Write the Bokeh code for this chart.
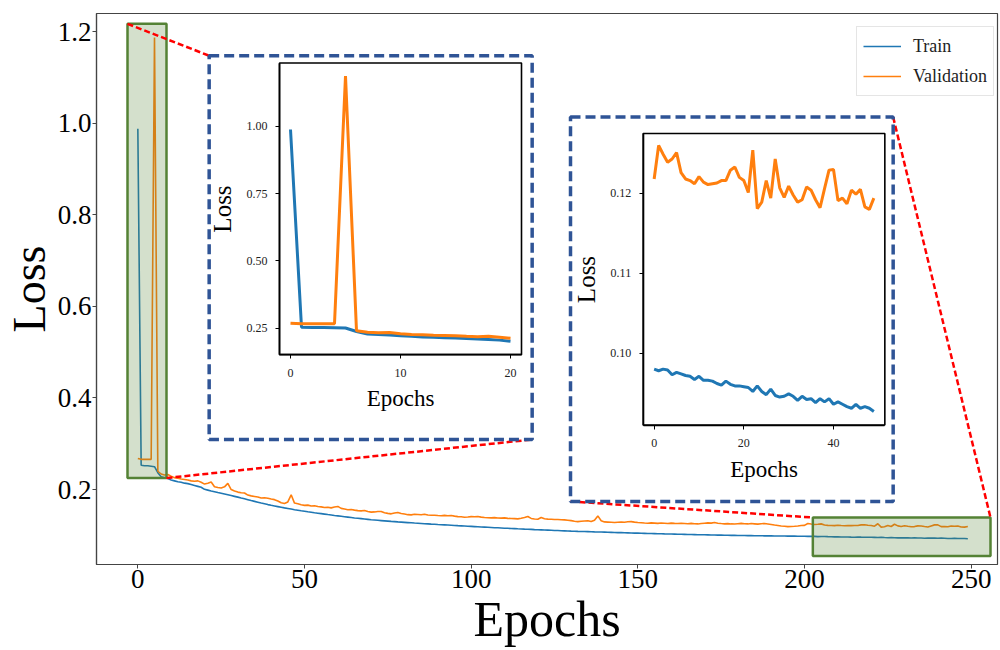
from bokeh.plotting import figure
from bokeh.models import Range1d, LinearAxis, FixedTicker, NumeralTickFormatter, Legend, LegendItem
from bokeh.embed import file_html
from bokeh.resources import INLINE

# ---------------- data ----------------
train_loss = [
    0.988, 0.253, 0.252, 0.252, 0.251, 0.250, 0.237, 0.228, 0.226, 0.224,
    0.221, 0.219, 0.217, 0.216, 0.214, 0.213, 0.211, 0.209, 0.207, 0.205,
    0.2005,
    0.1988, 0.1970, 0.1953, 0.1936, 0.1920, 0.1903, 0.1886, 0.1869, 0.1852, 0.1835,
    0.1816, 0.1798, 0.1779, 0.1760, 0.1742, 0.1724, 0.1706, 0.1689, 0.1672, 0.1656,
    0.1642, 0.1628, 0.1614, 0.1600, 0.1587, 0.1574, 0.1561, 0.1549, 0.1537, 0.1526,
    0.1515, 0.1505, 0.1494, 0.1484, 0.1474, 0.1464, 0.1454, 0.1445, 0.1435, 0.1426,
    0.1417, 0.1408, 0.1399, 0.1390, 0.1381, 0.1373, 0.1365, 0.1357, 0.1349, 0.1341,
    0.1335, 0.1329, 0.1323, 0.1317, 0.1311, 0.1305, 0.1300, 0.1294, 0.1289, 0.1284,
    0.1279, 0.1274, 0.1269, 0.1265, 0.1260, 0.1255, 0.1251, 0.1246, 0.1242, 0.1237,
    0.1233, 0.1229, 0.1225, 0.1221, 0.1217, 0.1212, 0.1208, 0.1204, 0.1200, 0.1196,
    0.1192, 0.1188, 0.1184, 0.1180, 0.1176, 0.1172, 0.1168, 0.1165, 0.1161, 0.1157,
    0.1154, 0.1150, 0.1147, 0.1143, 0.1140, 0.1136, 0.1133, 0.1130, 0.1126, 0.1123,
    0.1120, 0.1117, 0.1114, 0.1111, 0.1108, 0.1105, 0.1102, 0.1099, 0.1096, 0.1093,
    0.1091, 0.1088, 0.1086, 0.1083, 0.1081, 0.1079, 0.1076, 0.1074, 0.1072, 0.1070,
    0.1067, 0.1065, 0.1063, 0.1061, 0.1059, 0.1056, 0.1054, 0.1052, 0.1050, 0.1048,
    0.1046, 0.1044, 0.1042, 0.1040, 0.1038, 0.1036, 0.1034, 0.1032, 0.1031, 0.1029,
    0.1027, 0.1025, 0.1023, 0.1022, 0.1020, 0.1018, 0.1017, 0.1015, 0.1014, 0.1012,
    0.1011, 0.1009, 0.1008, 0.1006, 0.1005, 0.1004, 0.1002, 0.1001, 0.1000, 0.0998,
    0.0997, 0.0996, 0.0995, 0.0994, 0.0993, 0.0992, 0.0991, 0.0990, 0.0989, 0.0988,
    0.0987, 0.0987, 0.0986, 0.0985, 0.0984, 0.0984, 0.0983, 0.0982, 0.0981,
    0.0980, 0.0978, 0.0980, 0.0979, 0.0973, 0.0976, 0.0974, 0.0972, 0.0971, 0.0967,
    0.0971, 0.0966, 0.0966, 0.0965, 0.0962, 0.0960, 0.0965, 0.0961, 0.0959, 0.0959,
    0.0958, 0.0957, 0.0952, 0.0959, 0.0952, 0.0948, 0.0955, 0.0947, 0.0945, 0.0946,
    0.0949, 0.0946, 0.0941, 0.0946, 0.0942, 0.0943, 0.0938, 0.0943, 0.0939, 0.0943,
    0.0936, 0.0939, 0.0936, 0.0933, 0.0931, 0.0936, 0.0931, 0.0933, 0.0931, 0.0927,
]

val_loss = [
    0.268, 0.266, 0.266, 0.266, 0.266, 1.187, 0.240, 0.234, 0.232, 0.233,
    0.229, 0.226, 0.225, 0.223, 0.222, 0.221, 0.219, 0.218, 0.219, 0.216,
    0.212,
    0.2140, 0.2164, 0.2062, 0.2045, 0.2035, 0.2060, 0.2135, 0.2000, 0.1968, 0.1945,
    0.1930, 0.1925, 0.1880, 0.1862, 0.1850, 0.1838, 0.1815, 0.1820, 0.1812, 0.1795,
    0.1780, 0.1750, 0.1712, 0.1695, 0.1730, 0.1886, 0.1705, 0.1690, 0.1668, 0.1655,
    0.1660, 0.1642, 0.1648, 0.1630, 0.1622, 0.1610, 0.1615, 0.1600, 0.1618, 0.1632,
    0.1590, 0.1575, 0.1560, 0.1565, 0.1552, 0.1540, 0.1535, 0.1542, 0.1520, 0.1508,
    0.1512, 0.1520, 0.1522, 0.1495, 0.1480, 0.1470, 0.1488, 0.1500, 0.1478, 0.1465,
    0.1452, 0.1448, 0.1460, 0.1455, 0.1450, 0.1462, 0.1445, 0.1438, 0.1440, 0.1433,
    0.1428, 0.1436, 0.1430, 0.1433, 0.1420, 0.1410, 0.1405, 0.1396, 0.1402, 0.1410,
    0.1405, 0.1411, 0.1398, 0.1390, 0.1385, 0.1382, 0.1388, 0.1380, 0.1376, 0.1382,
    0.1372, 0.1368, 0.1365, 0.1360, 0.1372, 0.1390, 0.1411, 0.1370, 0.1358, 0.1353,
    0.1389, 0.1362, 0.1355, 0.1353, 0.1345, 0.1348, 0.1340, 0.1338, 0.1330, 0.1322,
    0.1310, 0.1301, 0.1308, 0.1315, 0.1320, 0.1302, 0.1330, 0.1425, 0.1320, 0.1294,
    0.1290, 0.1285, 0.1280, 0.1286, 0.1292, 0.1288, 0.1296, 0.1301, 0.1290, 0.1282,
    0.1276, 0.1270, 0.1265, 0.1272, 0.1268, 0.1262, 0.1270, 0.1265, 0.1260, 0.1268,
    0.1262, 0.1258, 0.1265, 0.1260, 0.1255, 0.1262, 0.1255, 0.1250, 0.1258, 0.1265,
    0.1272, 0.1268, 0.1280, 0.1266, 0.1258, 0.1252, 0.1256, 0.1250, 0.1248, 0.1255,
    0.1262, 0.1254, 0.1250, 0.1258, 0.1252, 0.1246, 0.1255, 0.1260, 0.1250, 0.1238,
    0.1225, 0.1215, 0.1205, 0.1198, 0.1191, 0.1195, 0.1200, 0.1206, 0.1215,
    0.1218, 0.1260, 0.1249, 0.1239, 0.1243, 0.1251, 0.1226, 0.1218, 0.1216, 0.1212,
    0.1221, 0.1214, 0.1211, 0.1212, 0.1213, 0.1216, 0.1216, 0.1229, 0.1233, 0.1220,
    0.1216, 0.1201, 0.1254, 0.1181, 0.1189, 0.1216, 0.1194, 0.1243, 0.1207, 0.1195,
    0.1209, 0.1198, 0.1189, 0.1192, 0.1208, 0.1204, 0.1192, 0.1182, 0.1206, 0.1229,
    0.1230, 0.1191, 0.1194, 0.1187, 0.1204, 0.1199, 0.1205, 0.1183, 0.1180, 0.1194,
]

train_epochs = list(range(len(train_loss)))
val_epochs = list(range(len(val_loss)))

x_ticks = [0, 50, 100, 150, 200, 250]
y_ticks = [0.2, 0.4, 0.6, 0.8, 1.0, 1.2]

zoom1_last_epoch = 20
zoom1_x_ticks = [0, 10, 20]
zoom1_y_ticks = [0.25, 0.50, 0.75, 1.00]

zoom2_first_epoch = 200
zoom2_x_ticks = [0, 20, 40]
zoom2_y_ticks = [0.10, 0.11, 0.12]

series_names = ["Train", "Validation"]

# ---------------- layout constants (main-data coordinates) ----------------
BLUE = "#1f77b4"
ORANGE = "#ff7f0e"
FONT = "Liberation Serif"

MAIN_X = (-12.4, 257.9)
MAIN_Y = (0.0364, 1.2395)

Z1_FRAME = (42.5, 115.1, 0.4946, 1.1313)      # left, right, bottom, top
Z1_RANGE_X = (-1.0, 21.0)
Z1_RANGE_Y = (0.151, 1.235)
Z1_BORDER = (21.4, 118.3, 0.3093, 1.1473)

Z2_FRAME = (151.6, 224.1, 0.3409, 0.9776)
Z2_RANGE_X = (-2.45, 51.45)
Z2_RANGE_Y = (0.0910, 0.1275)
Z2_BORDER = (129.8, 226.6, 0.1741, 1.0134)

GREEN1 = (-3.1, 8.6, 0.2252, 1.2169)
GREEN2 = (202.5, 255.8, 0.0547, 0.139)


def extra_range(f_lo, f_hi, m_lo, m_hi, d_lo, d_hi):
    k = (d_hi - d_lo) / (f_hi - f_lo)
    return Range1d(d_lo - (f_lo - m_lo) * k, d_hi + (m_hi - f_hi) * k)


p = figure(width=1000, height=650,
           x_range=Range1d(*MAIN_X), y_range=Range1d(*MAIN_Y),
           output_backend="svg", toolbar_location=None,
           min_border_left=96, min_border_right=3, min_border_top=13, min_border_bottom=86)
p.xgrid.visible = False
p.ygrid.visible = False
p.outline_line_color = "#444444"
p.outline_line_width = 1.2
p.background_fill_color = "white"
p.border_fill_color = "white"

mx = p.xaxis[0]
my = p.yaxis[0]
mx.ticker = FixedTicker(ticks=x_ticks)
my.ticker = FixedTicker(ticks=y_ticks)
my.formatter = NumeralTickFormatter(format="0.0")
mx.axis_label = "Epochs"
my.axis_label = "Loss"
for ax in (mx, my):
    ax.axis_line_color = "#444444"
    ax.axis_line_width = 1.2
    ax.major_tick_line_color = "#444444"
    ax.major_tick_out = 4
    ax.major_tick_in = 0
    ax.minor_tick_out = 0
    ax.minor_tick_in = 0
    ax.major_label_text_font = FONT
    ax.major_label_text_font_size = "27px"
    ax.major_label_text_color = "black"
    ax.major_label_standoff = 1
    ax.axis_label_text_font = FONT
    ax.axis_label_text_font_style = "normal"
    ax.axis_label_text_color = "black"
    ax.axis_label_standoff = 0
mx.axis_label_text_font_size = "50px"
my.axis_label_text_font_size = "46px"

p.extra_x_ranges = {
    "z1x": extra_range(Z1_FRAME[0], Z1_FRAME[1], MAIN_X[0], MAIN_X[1], *Z1_RANGE_X),
    "z2x": extra_range(Z2_FRAME[0], Z2_FRAME[1], MAIN_X[0], MAIN_X[1], *Z2_RANGE_X),
}
p.extra_y_ranges = {
    "z1y": extra_range(Z1_FRAME[2], Z1_FRAME[3], MAIN_Y[0], MAIN_Y[1], *Z1_RANGE_Y),
    "z2y": extra_range(Z2_FRAME[2], Z2_FRAME[3], MAIN_Y[0], MAIN_Y[1], *Z2_RANGE_Y),
}

# main curves
r_tr = p.line(train_epochs, train_loss, line_color=BLUE, line_width=1.6)
r_va = p.line(val_epochs, val_loss, line_color=ORANGE, line_width=1.6)

# zoom regions (green)
for g in (GREEN1, GREEN2):
    p.quad(left=[g[0]], right=[g[1]], bottom=[g[2]], top=[g[3]],
           fill_color="#548235", fill_alpha=0.25, line_color="#548235", line_width=2.5)

# connector lines (red dashed)
p.segment(x0=[GREEN1[0], GREEN1[1], Z2_BORDER[0], Z2_BORDER[1]],
          y0=[GREEN1[3], GREEN1[2], Z2_BORDER[2], Z2_BORDER[3]],
          x1=[Z1_BORDER[0], Z1_BORDER[1], GREEN2[0], GREEN2[1]],
          y1=[Z1_BORDER[3], Z1_BORDER[2], GREEN2[3], GREEN2[3]],
          line_color="red", line_width=2.5, line_dash="6 3")

# dashed blue borders around the insets
for b in (Z1_BORDER, Z2_BORDER):
    p.quad(left=[b[0]], right=[b[1]], bottom=[b[2]], top=[b[3]],
           fill_color=None, line_color="#2F5496", line_width=3.5, line_dash="10 5")


def inset(xr, yr, rx, ry, x_vals, tr_vals, va_vals, xt, yt):
    p.quad(left=[rx[0]], right=[rx[1]], bottom=[ry[0]], top=[ry[1]],
           x_range_name=xr, y_range_name=yr,
           fill_color="white", line_color="black", line_width=1.6)
    p.line(x_vals, tr_vals, x_range_name=xr, y_range_name=yr, line_color=BLUE, line_width=3)
    p.line(x_vals, va_vals, x_range_name=xr, y_range_name=yr, line_color=ORANGE, line_width=3)
    xa = LinearAxis(x_range_name=xr, y_range_name=yr, fixed_location=ry[0], bounds=rx,
                    ticker=FixedTicker(ticks=xt), axis_label="Epochs")
    ya = LinearAxis(x_range_name=xr, y_range_name=yr, fixed_location=rx[0], bounds=ry,
                    ticker=FixedTicker(ticks=yt), axis_label="Loss",
                    formatter=NumeralTickFormatter(format="0.00"))
    for ax in (xa, ya):
        ax.axis_line_color = "black"
        ax.axis_line_width = 1.6
        ax.major_tick_line_color = "black"
        ax.major_tick_out = 4
        ax.major_tick_in = 0
        ax.minor_tick_out = 0
        ax.minor_tick_in = 0
        ax.major_label_text_font = FONT
        ax.major_label_text_font_size = "12px"
        ax.major_label_text_color = "#222222"
        ax.axis_label_text_font = FONT
        ax.axis_label_text_font_style = "normal"
        ax.axis_label_text_color = "black"
    xa.major_label_standoff = 10
    xa.axis_label_standoff = 6
    xa.axis_label_text_font_size = "23px"
    ya.major_label_standoff = 8
    ya.axis_label_standoff = 8
    ya.axis_label_text_font_size = "25px"
    p.add_layout(xa, "below")
    p.add_layout(ya, "left")


z1_n = zoom1_last_epoch + 1
inset("z1x", "z1y", Z1_RANGE_X, Z1_RANGE_Y,
      train_epochs[:z1_n], train_loss[:z1_n], val_loss[:z1_n],
      zoom1_x_ticks, zoom1_y_ticks)

z2_x = [e - zoom2_first_epoch for e in train_epochs[zoom2_first_epoch:]]
inset("z2x", "z2y", Z2_RANGE_X, Z2_RANGE_Y,
      z2_x, train_loss[zoom2_first_epoch:], val_loss[zoom2_first_epoch:],
      zoom2_x_ticks, zoom2_y_ticks)

legend = Legend(items=[LegendItem(label=series_names[0], renderers=[r_tr]),
                       LegendItem(label=series_names[1], renderers=[r_va])],
                location=(760, 468))
legend.label_text_font = FONT
legend.label_text_font_size = "18px"
legend.label_text_color = "#222222"
legend.glyph_width = 38
legend.glyph_height = 26
legend.label_height = 26
legend.label_standoff = 12
legend.spacing = 4
legend.padding = 6
legend.margin = 0
legend.border_line_color = "#cccccc"
legend.border_line_width = 1
legend.background_fill_color = "white"
legend.background_fill_alpha = 1.0
p.add_layout(legend)

open("out.html", "w").write(file_html(p, INLINE))
